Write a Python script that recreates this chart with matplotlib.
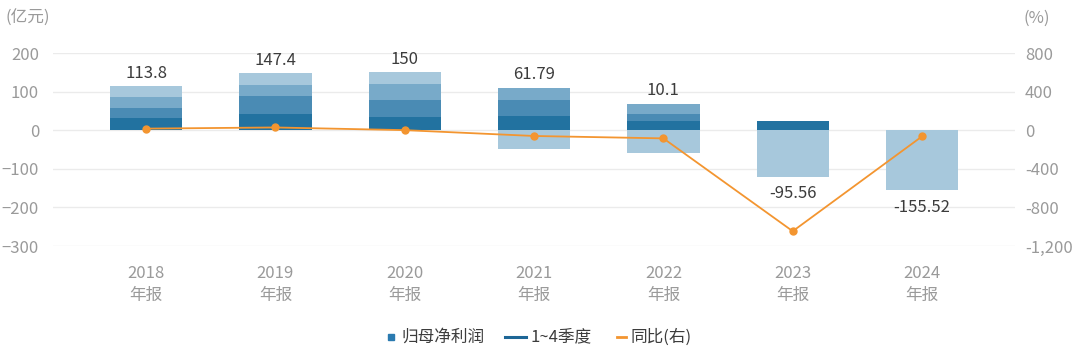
import matplotlib
matplotlib.use("Agg")
import matplotlib.pyplot as plt
from matplotlib.lines import Line2D
import numpy as np

plt.rcParams['font.family'] = ['Noto Sans CJK SC', 'DejaVu Sans']

years = ["2018", "2019", "2020", "2021", "2022", "2023", "2024"]
xlabels = [y + "\n年报" for y in years]
q1 = [33.0, 41.5, 34.5, 36.4, 24.2, 24.2, 0.0]
q2 = [26.0, 46.7, 43.3, 43.3, 17.4, 0.0, 0.0]
q3 = [27.5, 28.5, 43.5, 31.2, 27.7, 0.0, 0.0]
q4 = [27.3, 30.7, 28.7, -49.1, -59.2, -119.76, -155.52]
annual = [113.8, 147.4, 150, 61.79, 10.1, -95.56, -155.52]
annual_txt = ["113.8", "147.4", "150", "61.79", "10.1", "-95.56", "-155.52"]
yoy = [17.6, 29.5, 1.76, -58.8, -83.7, -1046.1, -62.7]

q_colors = ["#2272a0", "#4a8bb4", "#78aac9", "#a7c8dc"]
line_color = "#f39530"
grid_color = "#ebebeb"
tick_color = "#9a9a9a"

fig = plt.figure(figsize=(10.8, 3.52), dpi=100)
ax = fig.add_axes([0.049, 0.301, 0.891, 0.548])
ax2 = ax.twinx()

x = np.arange(len(years))
w = 0.56
pos_base = np.zeros(len(years))
neg_base = np.zeros(len(years))
for vals, c in zip([q1, q2, q3, q4], q_colors):
    v = np.array(vals, dtype=float)
    bottoms = np.where(v >= 0, pos_base, neg_base)
    ax.bar(x, v, w, bottom=bottoms, color=c, edgecolor="none", zorder=2)
    pos_base = pos_base + np.where(v > 0, v, 0)
    neg_base = neg_base + np.where(v < 0, v, 0)

for i, (a, t) in enumerate(zip(annual, annual_txt)):
    if a >= 0:
        ax.annotate(t, (x[i], pos_base[i]), xytext=(0, 3), textcoords="offset points",
                    ha="center", va="bottom", fontsize=12, color="#3c3c3c")
    else:
        ax.annotate(t, (x[i], neg_base[i]), xytext=(0, -6), textcoords="offset points",
                    ha="center", va="top", fontsize=12, color="#3c3c3c")

ax2.plot(x, yoy, color=line_color, lw=1.3, marker="o", markersize=5, zorder=3)

ax.set_xlim(-0.72, 6.72)
ax.set_ylim(-300, 200)
ax.set_yticks([-300, -200, -100, 0, 100, 200])
ax2.set_ylim(-1200, 800)
ax2.set_yticks([-1200, -800, -400, 0, 400, 800])
ax2.set_yticklabels(["-1,200", "-800", "-400", "0", "400", "800"])
ax.set_xticks(x)
ax.set_xticklabels(xlabels, linespacing=1.35)

ax.grid(axis="y", color=grid_color, lw=1, zorder=0)
ax.set_axisbelow(True)
for a_ in (ax, ax2):
    for s in a_.spines.values():
        s.set_visible(False)
    a_.tick_params(length=0, labelsize=12, colors=tick_color)
ax.tick_params(axis="y", pad=10)
ax2.tick_params(axis="y", pad=7)
ax.tick_params(axis="x", pad=14)

fig.text(0.005, 0.947, "(亿元)", fontsize=12, color=tick_color, ha="left", va="center")
fig.text(0.948, 0.947, "(%)", fontsize=12, color=tick_color, ha="left", va="center")

# legend
ly = 1 - 337 / 352
fig.add_artist(Line2D([391 / 1080], [ly], marker="s", markersize=5, color="#2a7ab0",
                      lw=0, transform=fig.transFigure))
fig.text(401 / 1080, ly, "归母净利润", fontsize=12, color="#3c3c3c", ha="left", va="center")
fig.add_artist(Line2D([505 / 1080, 526 / 1080], [ly, ly], color="#1d6696", lw=2.2,
                      transform=fig.transFigure))
fig.text(531 / 1080, ly, "1~4季度", fontsize=12, color="#3c3c3c", ha="left", va="center")
fig.add_artist(Line2D([617 / 1080, 626 / 1080], [ly, ly], color=line_color, lw=2,
                      transform=fig.transFigure))
fig.text(631 / 1080, ly, "同比(右)", fontsize=12, color="#3c3c3c", ha="left", va="center")

fig.savefig("out.png", dpi=100)
